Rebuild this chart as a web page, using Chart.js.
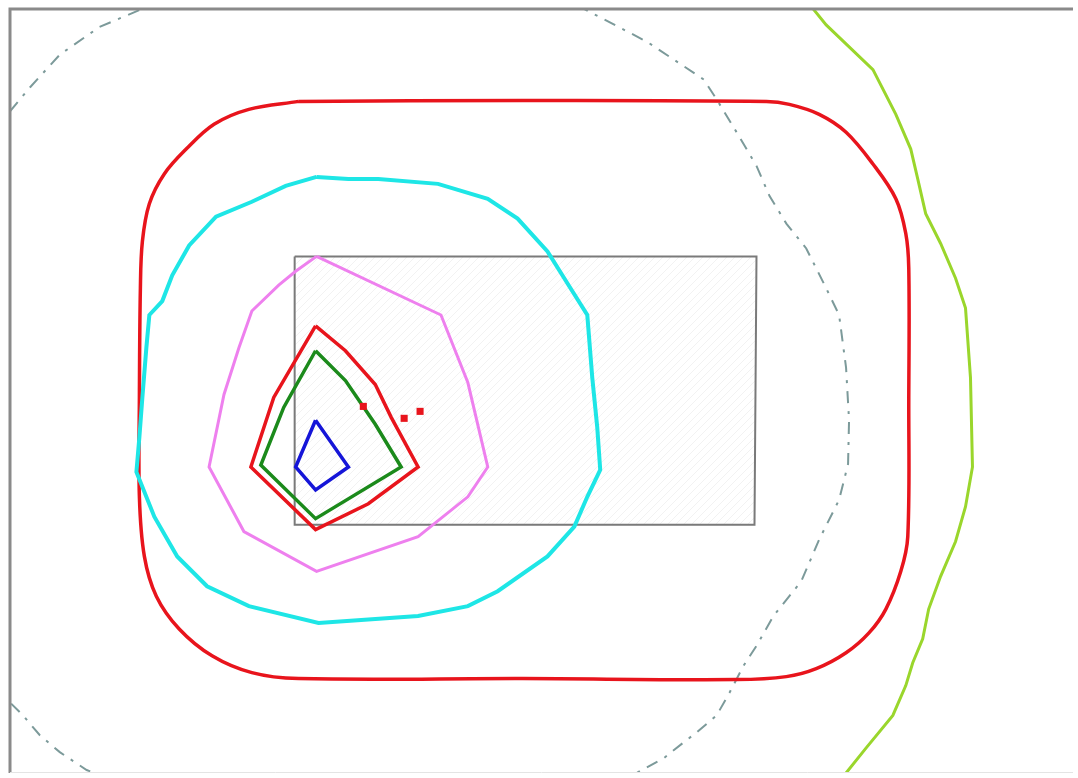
<!DOCTYPE html>
<html>
<head>
<meta charset="utf-8">
<script src="https://cdn.jsdelivr.net/npm/chart.js@4/dist/chart.umd.min.js"></script>
<style>
  html, body { margin: 0; padding: 0; background: #fff; overflow: hidden; }
  canvas { display: block; }
</style>
</head>
<body>
<canvas id="grafico" width="1078" height="778"></canvas>
<script>
// Contornos (coordenadas del plano, y hacia abajo)
const circuloExterior = [[0,103],[20,79],[50,46],[90,18],[135,-1],[190,-24],[270,-44],[360,-51],[450,-44],[520,-27],[575,-1],[640,33],[697,71],[710,91],[730,124],[750,158],[763,188],[780,216],[800,241],[820,281],[833,308],[840,361],[843,414],[842,458],[833,494],[813,534],[795,576],[783,591],[767,611],[750,641],[737,661],[723,688],[710,711],[690,728],[677,738],[657,754],[633,767],[590,791],[490,821],[360,831],[240,816],[140,791],[77,766],[50,748],[30,731],[13,711],[0,698],[-30,651],[-60,541],[-70,391],[-60,241],[-30,141],[0,103]]
const lineaVerde = [[802,-9],[807,0],[820,16],[867,61],[890,106],[905,141],[912,171],[920,206],[935,236],[950,271],[960,301],[965,371],[967,461],[960,501],[950,536],[935,571],[923,604],[917,634],[907,658],[900,681],[887,711],[860,744],[840,769],[830,781]]
const rojoExterior = [[290,93],[515,92],[760,93],[783,96],[813,106],[840,124],[867,156],[890,191],[900,226],[903,261],[903,391],[902,531],[895,566],[880,604],[863,628],[840,648],[810,664],[780,672],[730,675],[515,674],[290,674],[243,668],[203,651],[170,624],[147,591],[135,551],[130,491],[130,391],[131,281],[133,234],[140,196],[155,166],[177,141],[205,116],[240,101],[290,93]]
const cian = [[308,169],[340,171],[370,171],[430,176],[480,191],[510,211],[540,244],[560,276],[580,308],[585,371],[590,421],[593,464],[580,491],[567,521],[540,551],[490,586],[460,601],[410,611],[310,618],[240,601],[198,581],[168,551],[145,511],[127,466],[130,431],[133,391],[137,341],[140,308],[153,294],[163,268],[180,238],[207,209],[243,194],[277,178],[308,169]]
const violeta = [[308,249],[433,308],[460,376],[480,461],[460,491],[410,531],[308,566],[235,526],[200,461],[215,388],[230,341],[243,304],[270,278],[287,264],[308,249]]
const rojoInterior = [[307,319],[337,344],[367,378],[383,411],[410,461],[360,498],[307,524],[242,461],[265,391],[307,319]]
const verde = [[307,344],[337,374],[367,418],[393,461],[307,513],[252,459],[275,401],[307,344]]
const azul = [[307,414],[340,461],[307,484],[287,461],[307,414]]
const puntosRojos = [[355,400],[396,412],[412,405]]
const rectangulo = [[286,249],[750,249],[748,519],[286,519],[286,249]]

const aPuntos = arr => arr.map(p => ({ x: p[0], y: p[1] }))

// patron de rayado muy suave para el rectangulo
const crearRayado = () => {
    const c = document.createElement('canvas')
    c.width = 8
    c.height = 8
    const ctx = c.getContext('2d')
    ctx.strokeStyle = 'rgba(0,0,0,0.05)'
    ctx.lineWidth = 1
    ctx.beginPath()
    ctx.moveTo(0, 8)
    ctx.lineTo(8, 0)
    ctx.stroke()
    return ctx.createPattern(c, 'repeat')
}

const linea = (data, color, ancho, extra) => Object.assign({
    data: aPuntos(data),
    showLine: true,
    borderColor: color,
    borderWidth: ancho,
    pointRadius: 0,
    tension: 0,
    fill: false,
    clip: 0
}, extra || {})

// marco: solo borde izquierdo y superior
const marco = {
    id: 'marco',
    afterDatasetsDraw(chart) {
        const { ctx, chartArea } = chart
        ctx.save()
        ctx.strokeStyle = '#8a8a8a'
        ctx.lineWidth = 3
        ctx.beginPath()
        ctx.moveTo(chartArea.left, chartArea.bottom)
        ctx.lineTo(chartArea.left, chartArea.top)
        ctx.lineTo(chartArea.right, chartArea.top)
        ctx.stroke()
        ctx.strokeStyle = '#e4e4e4'
        ctx.lineWidth = 1
        ctx.beginPath()
        ctx.moveTo(chartArea.left, chartArea.bottom - 0.5)
        ctx.lineTo(chartArea.right, chartArea.bottom - 0.5)
        ctx.stroke()
        ctx.restore()
    }
}

new Chart(document.getElementById('grafico'), {
    type: 'scatter',
    data: {
        datasets: [
            linea(puntosRojos, '#e8141c', 0, { showLine: false, pointRadius: 5, pointStyle: 'rect', backgroundColor: '#e8141c', borderWidth: 0 }),
            linea(azul, '#1515d8', 3.5),
            linea(verde, '#1b8a1b', 3.5),
            linea(rojoInterior, '#e8141c', 3.5),
            linea(violeta, '#ee80ee', 3),
            linea(cian, '#1ee6e6', 4),
            linea(rojoExterior, '#e8141c', 3.5, { tension: 0.35 }),
            linea(lineaVerde, '#9ad62c', 3),
            linea(circuloExterior, '#7c9a9a', 2, { borderDash: [12, 8, 3, 8] }),
            linea(rectangulo, '#7a7a7a', 2, { fill: 'shape', backgroundColor: crearRayado() })
        ]
    },
    options: {
        responsive: false,
        animation: false,
        layout: { padding: { left: 10, top: 9, right: 0, bottom: 0 } },
        plugins: { legend: { display: false }, tooltip: { enabled: false } },
        scales: {
            x: { type: 'linear', min: 0, max: 1068, display: false },
            y: { type: 'linear', min: 0, max: 769, reverse: true, display: false }
        }
    },
    plugins: [marco]
})
</script>
</body>
</html>
